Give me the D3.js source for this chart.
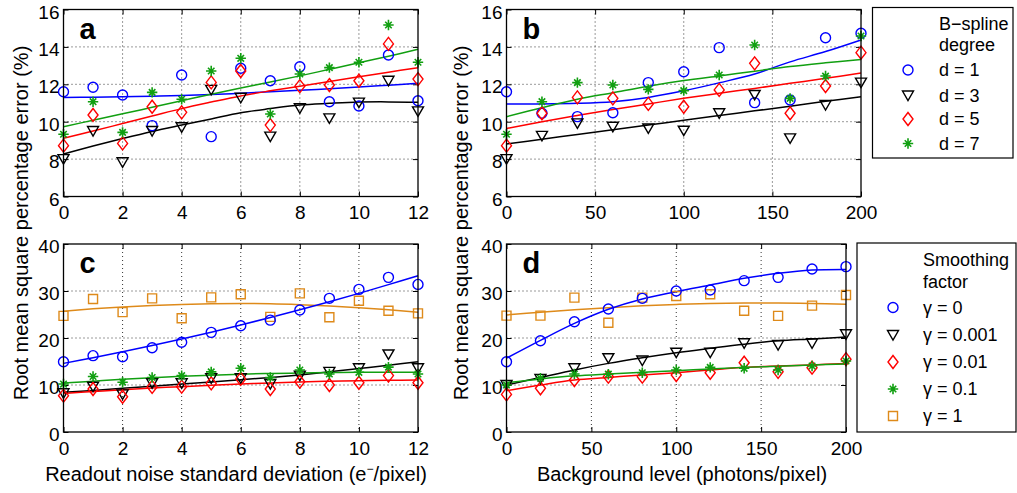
<!DOCTYPE html>
<html>
<head>
<meta charset="utf-8">
<script src="https://cdn.jsdelivr.net/npm/d3@7"></script>
<style>
  body { margin: 0; background: #fff; }
  text { font-family: "Liberation Sans", Arial, sans-serif; fill: #000; }
</style>
</head>
<body>
<svg width="1017" height="493"></svg>
<script>
// x values
const xNoise = [0, 1, 2, 3, 4, 5, 6, 7, 8, 9, 10, 11, 12];
const xBg = [0, 20, 40, 60, 80, 100, 120, 140, 160, 180, 200];
const noiseTicks = [0, 2, 4, 6, 8, 10, 12];
const bgTicks = [0, 50, 100, 150, 200];
const topTicks = [6, 8, 10, 12, 14, 16];
const bottomTicks = [0, 10, 20, 30, 40];

const degreeLabels = ["d = 1", "d = 3", "d = 5", "d = 7"];
const smoothLabels = ["\u03b3 = 0", "\u03b3 = 0.001", "\u03b3 = 0.01", "\u03b3 = 0.1", "\u03b3 = 1"];

// panel a: points and fits, by spline degree
const aD1 = [11.6, 11.84, 11.43, 9.79, 12.5, 9.2, 12.86, 12.19, 12.94, 11.07, 10.84, 13.57, 11.12];
const aD3 = [8.0, 9.5, 7.83, 9.5, 9.7, 11.7, 11.28, 9.2, 10.72, 10.18, 11.02, 12.19, 10.55];
const aD5 = [8.72, 10.36, 8.84, 10.8, 10.5, 12.1, 12.71, 9.82, 11.9, 11.96, 12.19, 14.16, 12.28];
const aD7 = [9.33, 11.07, 9.43, 11.57, 11.2, 12.71, 13.39, 10.41, 12.55, 12.89, 13.18, 15.17, 13.18];
const aFit1 = [11.3, 11.31, 11.33, 11.36, 11.4, 11.45, 11.52, 11.6, 11.68, 11.76, 11.85, 11.95, 12.05];
const aFit3 = [8.27, 8.7, 9.1, 9.48, 9.82, 10.15, 10.48, 10.7, 10.89, 10.98, 11.05, 11.06, 11.04];
const aFit5 = [9.11, 9.5, 9.9, 10.3, 10.7, 11.05, 11.38, 11.65, 11.9, 12.15, 12.4, 12.65, 12.89];
const aFit7 = [9.73, 10.08, 10.42, 10.77, 11.12, 11.47, 11.8, 12.12, 12.45, 12.8, 13.15, 13.5, 13.87];

// panel b
const bD1 = [11.6, 10.45, 10.27, 10.48, 12.09, 12.67, 13.96, 11.02, 11.16, 14.49, 14.73];
const bD3 = [8.0, 9.24, 9.91, 9.73, 9.64, 9.52, 10.45, 11.43, 9.11, 10.89, 12.09];
const bD5 = [8.72, 10.45, 11.3, 11.25, 10.95, 10.8, 11.7, 13.12, 10.45, 11.91, 13.69];
const bD7 = [9.33, 11.07, 12.09, 11.96, 11.73, 11.66, 12.5, 14.1, 11.25, 12.44, 14.58];
const bFit1 = [10.95, 10.95, 10.98, 11.07, 11.3, 11.65, 12.08, 12.55, 13.2, 13.75, 14.37];
const bFit3 = [8.81, 9.06, 9.32, 9.57, 9.82, 10.08, 10.33, 10.58, 10.83, 11.09, 11.34];
const bFit5 = [9.64, 10.0, 10.33, 10.65, 10.95, 11.25, 11.52, 11.78, 12.05, 12.32, 12.6];
const bFit7 = [10.27, 10.75, 11.2, 11.55, 11.9, 12.2, 12.45, 12.7, 12.95, 13.15, 13.33];

// panel c: by smoothing factor
const cG0 = [14.96, 16.24, 16.0, 17.94, 19.1, 21.2, 22.6, 23.8, 25.96, 28.44, 30.35, 32.9, 31.4];
const cG001 = [8.23, 9.64, 8.0, 10.36, 10.36, 11.43, 11.43, 10.2, 12.0, 12.8, 13.55, 16.5, 13.55];
const cG01 = [7.73, 9.15, 7.5, 9.6, 9.64, 10.36, 11.3, 9.15, 10.7, 10.0, 10.48, 12.0, 10.48];
const cG1e1 = [10.2, 11.8, 10.6, 11.6, 12.0, 12.8, 13.55, 11.6, 13.2, 12.34, 12.7, 13.8, 12.34];
const cG1 = [24.7, 28.3, 25.5, 28.44, 24.2, 28.65, 29.3, 24.5, 29.5, 24.4, 27.94, 25.8, 25.25];
const cFit0 = [14.6, 15.8, 17.07, 18.39, 19.79, 21.24, 22.77, 24.36, 26.0, 27.72, 29.5, 31.35, 33.26];
const cFit001 = [8.44, 8.85, 9.3, 9.75, 10.2, 10.65, 11.1, 11.6, 12.15, 12.8, 13.5, 14.2, 14.96];
const cFit01 = [8.2, 8.6, 9.0, 9.35, 9.65, 9.95, 10.2, 10.45, 10.65, 10.8, 10.9, 11.0, 11.06];
const cFit1e1 = [10.4, 10.8, 11.2, 11.55, 11.85, 12.1, 12.3, 12.45, 12.55, 12.65, 12.7, 12.72, 12.72];
const cFit1 = [25.7, 26.2, 26.6, 26.9, 27.15, 27.3, 27.35, 27.3, 27.1, 26.8, 26.45, 26.0, 25.5];

// panel d
const dG0 = [14.96, 19.43, 23.47, 26.17, 28.44, 30.0, 30.2, 32.2, 32.9, 34.68, 35.18];
const dG001 = [10.0, 11.3, 13.55, 15.7, 15.2, 16.87, 16.87, 18.87, 18.5, 18.87, 20.8];
const dG01 = [8.0, 9.3, 11.06, 11.77, 11.77, 12.13, 12.6, 14.74, 12.8, 13.68, 15.5];
const dG1e1 = [10.0, 11.43, 12.34, 12.3, 12.6, 13.2, 13.76, 13.55, 13.2, 14.04, 15.1];
const dG1 = [24.75, 24.75, 28.58, 23.26, 28.58, 28.94, 29.3, 25.8, 24.7, 26.88, 29.15];
const dFit0 = [15.7, 19.5, 23.1, 26.1, 28.3, 29.86, 31.28, 32.7, 33.76, 34.47, 34.6];
const dFit001 = [10.0, 11.6, 13.2, 14.6, 15.8, 16.87, 17.8, 18.68, 19.4, 19.8, 20.2];
const dFit01 = [8.79, 10.0, 11.06, 11.6, 12.13, 12.6, 13.2, 13.76, 14.04, 14.26, 14.6];
const dFit1e1 = [10.5, 11.3, 11.95, 12.35, 12.7, 13.05, 13.4, 13.75, 14.0, 14.25, 14.47];
const dFit1 = [24.9, 25.5, 26.0, 26.45, 26.85, 27.15, 27.35, 27.45, 27.45, 27.35, 27.2];

const BLUE = "#0000ff", BLACK = "#000000", RED = "#ff0000", GREEN = "#119f11", ORANGE = "#de8a1a";
const FONT = "'Liberation Sans', Arial, sans-serif";

// marker shapes, fixed size
const shapes = {
  circle: { draw(c) { c.moveTo(5, 0); c.arc(0, 0, 5, 0, 2 * Math.PI); } },
  tri: { draw(c) { c.moveTo(-5.5, -4.5); c.lineTo(5.5, -4.5); c.lineTo(0, 5); c.closePath(); } },
  diamond: { draw(c) { c.moveTo(0, -6.5); c.lineTo(5, 0); c.lineTo(0, 6.5); c.lineTo(-5, 0); c.closePath(); } },
  star: { draw(c) {
    for (let k = 0; k < 4; k++) {
      let a = k * Math.PI / 4, r = k % 2 ? 4.6 : 5.2;
      c.moveTo(-r * Math.cos(a), -r * Math.sin(a));
      c.lineTo(r * Math.cos(a), r * Math.sin(a));
    }
  } },
  square: { draw(c) { c.rect(-4.5, -4.5, 9, 9); } }
};
const sym = (s) => d3.symbol().type(shapes[s])();

const svg = d3.select("svg");

function drawPanel(p) {
  const x = d3.scaleLinear().domain(p.xDomain).range([p.left, p.right]);
  const y = d3.scaleLinear().domain(p.yDomain).range([p.bottom, p.top]);
  const g = svg.append("g");

  // dotted grid
  g.selectAll(".gx").data(p.xTicks.slice(1, -1)).join("line")
    .attr("x1", d => x(d)).attr("x2", d => x(d))
    .attr("y1", p.top).attr("y2", p.bottom)
    .attr("stroke", "#000").attr("stroke-width", 0.8).attr("stroke-dasharray", "1,3");
  g.selectAll(".gy").data(p.yTicks.slice(1, -1)).join("line")
    .attr("y1", d => y(d)).attr("y2", d => y(d))
    .attr("x1", p.left).attr("x2", p.right)
    .attr("stroke", "#000").attr("stroke-width", 0.8).attr("stroke-dasharray", "1,3");

  const axB = g.append("g").attr("transform", `translate(0,${p.bottom})`)
    .call(d3.axisBottom(x).tickValues(p.xTicks).tickSizeInner(-5).tickSizeOuter(0).tickPadding(9.5));
  const axL = g.append("g").attr("transform", `translate(${p.left},0)`)
    .call(d3.axisLeft(y).tickValues(p.yTicks).tickSizeInner(-5).tickSizeOuter(0).tickPadding(4));
  g.append("g").attr("transform", `translate(0,${p.top})`)
    .call(d3.axisTop(x).tickValues(p.xTicks).tickSizeInner(-5).tickSizeOuter(0).tickFormat(""));
  g.append("g").attr("transform", `translate(${p.right},0)`)
    .call(d3.axisRight(y).tickValues(p.yTicks).tickSizeInner(-5).tickSizeOuter(0).tickFormat(""));
  g.selectAll(".domain").remove();
  g.selectAll(".tick line").attr("stroke", "#000").attr("stroke-width", 1);
  [axB, axL].forEach(a => a.selectAll("text")
    .style("font-size", "19px").style("font-family", FONT).attr("fill", "#000"));
  axL.selectAll("text").attr("dy", "0.45em");

  // series: fitted curve then markers
  p.series.forEach(s => {
    const line = d3.line().x((d, i) => x(p.xs[i])).y(d => y(d)).curve(d3.curveCatmullRom);
    g.append("path").attr("d", line(s.fit)).attr("fill", "none")
      .attr("stroke", s.color).attr("stroke-width", 1.5);
  });
  p.series.forEach(s => {
    g.selectAll(null).data(s.pts).join("path")
      .attr("transform", (d, i) => `translate(${x(p.xs[i])},${y(d)})`)
      .attr("d", sym(s.shape)).attr("fill", "none")
      .attr("stroke", s.color).attr("stroke-width", s.shape === "star" ? 1.6 : 1.4);
  });

  g.append("rect").attr("x", p.left).attr("y", p.top)
    .attr("width", p.right - p.left).attr("height", p.bottom - p.top)
    .attr("fill", "none").attr("stroke", "#000").attr("stroke-width", 1.3);

  g.append("text").attr("x", p.left + 16).attr("y", p.top + 29)
    .style("font-size", "29px").style("font-weight", "bold").text(p.letter);
}

const degreeSeries = (pts, fits) => [
  { pts: pts[0], fit: fits[0], color: BLUE, shape: "circle" },
  { pts: pts[1], fit: fits[1], color: BLACK, shape: "tri" },
  { pts: pts[2], fit: fits[2], color: RED, shape: "diamond" },
  { pts: pts[3], fit: fits[3], color: GREEN, shape: "star" }
];
const smoothSeries = (pts, fits) => [
  { pts: pts[4], fit: fits[4], color: ORANGE, shape: "square" },
  { pts: pts[0], fit: fits[0], color: BLUE, shape: "circle" },
  { pts: pts[1], fit: fits[1], color: BLACK, shape: "tri" },
  { pts: pts[2], fit: fits[2], color: RED, shape: "diamond" },
  { pts: pts[3], fit: fits[3], color: GREEN, shape: "star" }
];

drawPanel({ letter: "a", left: 63.5, right: 418, top: 9.5, bottom: 196.5,
  xDomain: [0, 12], yDomain: [6, 16], xTicks: noiseTicks, yTicks: topTicks, xs: xNoise,
  series: degreeSeries([aD1, aD3, aD5, aD7], [aFit1, aFit3, aFit5, aFit7]) });
drawPanel({ letter: "b", left: 506.5, right: 861, top: 9.5, bottom: 196.5,
  xDomain: [0, 200], yDomain: [6, 16], xTicks: bgTicks, yTicks: topTicks, xs: xBg,
  series: degreeSeries([bD1, bD3, bD5, bD7], [bFit1, bFit3, bFit5, bFit7]) });
drawPanel({ letter: "c", left: 63.5, right: 418, top: 244, bottom: 432,
  xDomain: [0, 12], yDomain: [0, 40], xTicks: noiseTicks, yTicks: bottomTicks, xs: xNoise,
  series: smoothSeries([cG0, cG001, cG01, cG1e1, cG1], [cFit0, cFit001, cFit01, cFit1e1, cFit1]) });
drawPanel({ letter: "d", left: 506.5, right: 846, top: 244, bottom: 432,
  xDomain: [0, 200], yDomain: [0, 40], xTicks: bgTicks, yTicks: bottomTicks, xs: xBg,
  series: smoothSeries([dG0, dG001, dG01, dG1e1, dG1], [dFit0, dFit001, dFit01, dFit1e1, dFit1]) });

// axis titles
[28, 468].forEach(tx => {
  svg.append("text").attr("transform", `translate(${tx},223) rotate(-90)`)
    .attr("text-anchor", "middle").style("font-size", "20px")
    .text("Root mean square percentage error (%)");
});
const xt = svg.append("text").attr("x", 236).attr("y", 481).attr("text-anchor", "middle").style("font-size", "20px");
xt.append("tspan").text("Readout noise standard deviation (e");
xt.append("tspan").attr("dy", -8).style("font-size", "12px").text("\u2212");
xt.append("tspan").attr("dy", 8).text("/pixel)");
svg.append("text").attr("x", 682).attr("y", 481).attr("text-anchor", "middle").style("font-size", "20px")
  .text("Background level (photons/pixel)");

// legends
function legend(box, titleLines, labels, shapesList, colors, rows, mx, tx) {
  const g = svg.append("g");
  g.append("rect").attr("x", box[0]).attr("y", box[1]).attr("width", box[2]).attr("height", box[3])
    .attr("fill", "#fff").attr("stroke", "#000").attr("stroke-width", 1.2);
  titleLines.forEach((t, i) => g.append("text").attr("x", tx).attr("y", rows[i]).attr("dy", "0.35em")
    .style("font-size", "18px").text(t));
  labels.forEach((t, i) => {
    const yy = rows[i + titleLines.length];
    g.append("path").attr("transform", `translate(${mx},${yy})`).attr("d", sym(shapesList[i]))
      .attr("fill", "none").attr("stroke", colors[i]).attr("stroke-width", shapesList[i] === "star" ? 1.6 : 1.4);
    g.append("text").attr("x", tx).attr("y", yy).attr("dy", "0.35em").style("font-size", "18px").text(t);
  });
}
legend([872.5, 7.5, 140.5, 150.5], ["B\u2212spline", "degree"], degreeLabels,
  ["circle", "tri", "diamond", "star"], [BLUE, BLACK, RED, GREEN],
  [24, 45, 70, 95.5, 119, 143.5], 908, 939);
legend([857, 243, 159, 189], ["Smoothing", "factor"], smoothLabels,
  ["circle", "tri", "diamond", "star", "square"], [BLUE, BLACK, RED, GREEN, ORANGE],
  [260, 282, 307.5, 335, 362, 389, 416], 893, 923);
</script>
</body>
</html>
